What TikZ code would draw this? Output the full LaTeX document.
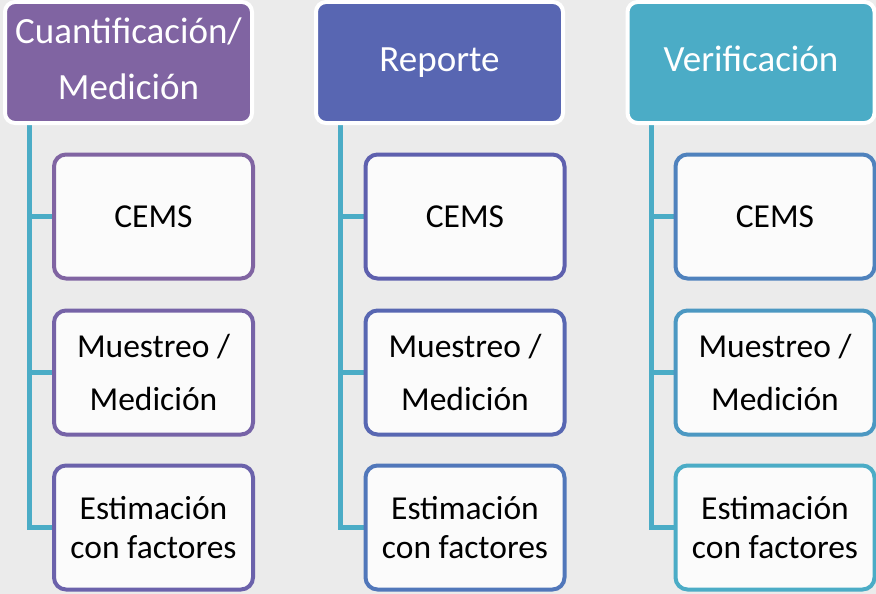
\documentclass[tikz,border=0pt]{standalone}
\usepackage{fontspec}
\setmainfont{Carlito}
\pgfdeclarelayer{back}
\pgfdeclarelayer{lines}
\pgfsetlayers{back,lines,main}
\definecolor{bgc}{HTML}{EBEBEB}
\definecolor{childfill}{HTML}{FBFBFB}
\definecolor{trunkc}{HTML}{4BACC6}
\definecolor{hA}{HTML}{8064A2}
\definecolor{hB}{HTML}{5866B2}
\definecolor{hC}{HTML}{4BACC6}
\definecolor{bA1}{HTML}{8064A2}
\definecolor{bA2}{HTML}{7663A7}
\definecolor{bA3}{HTML}{6B62AB}
\definecolor{bB1}{HTML}{5E60AE}
\definecolor{bB2}{HTML}{5867B2}
\definecolor{bB3}{HTML}{5177BA}
\definecolor{bC1}{HTML}{4F82BD}
\definecolor{bC2}{HTML}{4C98C2}
\definecolor{bC3}{HTML}{4BACC6}
\begin{document}
\begin{tikzpicture}[x=1pt,y=-1pt,
  hdr/.style={rectangle, rounded corners=10pt, draw=white, line width=4pt,
    minimum width=247pt, minimum height=121pt, inner sep=0pt, outer sep=0pt,
    text=white, align=center, font=\fontsize{37}{56}\selectfont},
  oneline/.style={text height=24pt, text depth=5pt},
  child/.style={rectangle, rounded corners=12pt, line width=4pt, fill=childfill,
    minimum width=199pt, minimum height=124pt, inner sep=0pt, outer sep=0pt,
    align=center, text=black},
  fa/.style={font=\fontsize{33.5}{40}\selectfont},
  fb/.style={font=\fontsize{33.5}{53}\selectfont},
  fc/.style={font=\fontsize{33.5}{39}\selectfont},
  conn/.style={draw=trunkc, line width=5pt}
]
\useasboundingbox (0,0) rectangle (876,594);
\begin{pgfonlayer}{back}
\fill[bgc] (0,0) rectangle (876,594);
\end{pgfonlayer}

% headers
\node[hdr, fill=hA, text depth=8pt] (h1) at (128.5,62.5) {Cuantificación/\\Medición};
\node[hdr, fill=hB, oneline] (h2) at (439.5,62.5) {Reporte};
\node[hdr, fill=hC, oneline] (h3) at (751,62.5) {Verificación};

% column 1
\node[child, draw=bA1, fa] (a1) at (153.5,216.5) {CEMS};
\node[child, draw=bA2, fb] (a2) at (153.5,372.5) {Muestreo /\\Medición};
\node[child, draw=bA3, fc] (a3) at (153.5,527.5) {Estimación\\con factores};
% column 2
\node[child, draw=bB1, fa] (b1) at (465,216.5) {CEMS};
\node[child, draw=bB2, fb] (b2) at (465,372.5) {Muestreo /\\Medición};
\node[child, draw=bB3, fc] (b3) at (465,527.5) {Estimación\\con factores};
% column 3
\node[child, draw=bC1, fa] (c1) at (775,216.5) {CEMS};
\node[child, draw=bC2, fb] (c2) at (775,372.5) {Muestreo /\\Medición};
\node[child, draw=bC3, fc] (c3) at (775,527.5) {Estimación\\con factores};

\coordinate (t1) at (29,118);
\coordinate (t2) at (340,118);
\coordinate (t3) at (651.5,118);

\begin{pgfonlayer}{lines}
\draw[conn] (t1) |- (a3.west);
\draw[conn] (t1) |- (a2.west);
\draw[conn] (t1) |- (a1.west);
\draw[conn] (t2) |- (b3.west);
\draw[conn] (t2) |- (b2.west);
\draw[conn] (t2) |- (b1.west);
\draw[conn] (t3) |- (c3.west);
\draw[conn] (t3) |- (c2.west);
\draw[conn] (t3) |- (c1.west);
\end{pgfonlayer}
\end{tikzpicture}
\end{document}
